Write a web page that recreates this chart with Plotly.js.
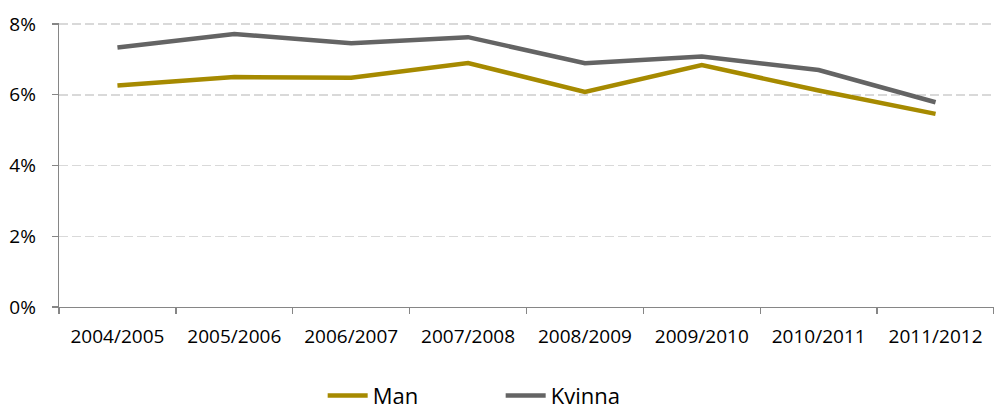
<!DOCTYPE html>
<html>
<head>
<meta charset="utf-8">
<script src="https://cdn.plot.ly/plotly-3.0.1.min.js"></script>
<style>html,body{margin:0;padding:0;background:#fff;}#chart{width:994px;height:410px;}</style>
</head>
<body>
<div id="chart"></div>
<script>
const categories = ["2004/2005","2005/2006","2006/2007","2007/2008","2008/2009","2009/2010","2010/2011","2011/2012"];
const man = [6.26, 6.50, 6.48, 6.90, 6.08, 6.84, 6.12, 5.46];
const kvinna = [7.34, 7.72, 7.46, 7.63, 6.89, 7.08, 6.70, 5.79];
const yTicks = [0, 2, 4, 6, 8];

const traces = [
  {x: categories, y: man, name: "Man", type: "scatter", mode: "lines",
   line: {color: "#A68A00", width: 4.5}},
  {x: categories, y: kvinna, name: "Kvinna", type: "scatter", mode: "lines",
   line: {color: "#646464", width: 4.5}}
];

const layout = {
  width: 994, height: 410,
  margin: {l: 59, r: 0, t: 23, b: 103, autoexpand: false},
  paper_bgcolor: "#fff", plot_bgcolor: "#fff",
  font: {family: "Open Sans, sans-serif", size: 19, color: "#000"},
  showlegend: true,
  legend: {orientation: "h", x: 0.282, xanchor: "left", y: -0.312, yanchor: "middle",
           font: {size: 22, color: "#000"}, entrywidth: 123, entrywidthmode: "pixels",
           itemwidth: 40, tracegroupgap: 0},
  xaxis: {type: "category", range: [-0.5, 7.5], showline: true, linecolor: "#868686", linewidth: 1.3,
          ticks: "outside", tickson: "boundaries", ticklen: 6, tickcolor: "#868686", tickwidth: 1.3,
          showgrid: false, tickfont: {size: 19}, ticklabelstandoff: 12, fixedrange: true},
  yaxis: {range: [0, 8.03], tickvals: yTicks, ticktext: yTicks.map(v => v + "%"),
          showline: true, linecolor: "#868686", linewidth: 1.3,
          ticks: "outside", ticklen: 6, tickcolor: "#868686", tickwidth: 1.3,
          showgrid: true, gridcolor: "#D9D9D9", gridwidth: 1.5, griddash: "9px,4px",
          zeroline: false, tickfont: {size: 19}, ticklabelstandoff: 12, fixedrange: true}
};

Plotly.newPlot("chart", traces, layout, {displayModeBar: false, staticPlot: true});
</script>
</body>
</html>
